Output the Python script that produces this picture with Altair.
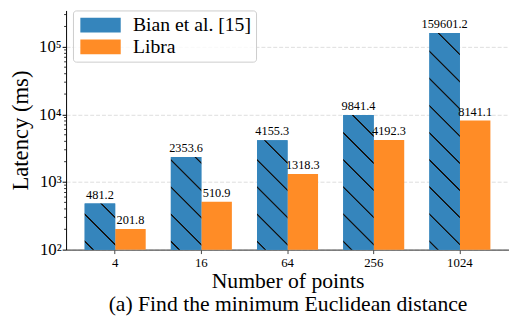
import math
import altair as alt
import pandas as pd

# ---- data ----
categories = ["4", "16", "64", "256", "1024"]
series = ["Bian et al. [15]", "Libra"]
bian_values = [481.2, 2353.6, 4155.3, 9841.4, 159601.2]
libra_values = [201.8, 510.9, 1318.3, 4192.3, 8141.1]
major_ticks = [100, 1000, 10000, 100000]
minor_ticks = [200, 300, 400, 500, 600, 700, 800, 900,
               2000, 3000, 4000, 5000, 6000, 7000, 8000, 9000,
               20000, 30000, 40000, 50000, 60000, 70000, 80000, 90000,
               200000, 300000]

# ---- style ----
BLUE = "#3585BC"
ORANGE = "#FF8C26"
FONT = "Liberation Serif"
W, H = 450, 243
Y_MIN, Y_MAX = 100, 345000
BAR_W = 31.0
HATCH_SPACING = 19.5

rows = []
for c, b, l in zip(categories, bian_values, libra_values):
    rows.append({"category": c, "method": series[0], "value": b})
    rows.append({"category": c, "method": series[1], "value": l})
df = pd.DataFrame(rows)
minor_df = pd.DataFrame({"value": minor_ticks})

y_scale = alt.Scale(type="log", domain=[Y_MIN, Y_MAX], nice=False)
label_expr = ("datum.value == 100 ? '10\u00b2' : datum.value == 1000 ? '10\u00b3' : "
              "datum.value == 10000 ? '10\u2074' : datum.value == 100000 ? '10\u2075' : ''")

y_axis = alt.Axis(
    title="Latency (ms)",
    titleFont=FONT, titleFontSize=23, titleFontWeight="normal", titleColor="black",
    titlePadding=6,
    labelFont=FONT, labelFontSize=17, labelColor="black", labelPadding=1,
    values=major_ticks, labelExpr=label_expr,
    tickSize=4, tickColor="black", domainColor="black", domainWidth=1,
    grid=True, gridColor="#dddddd", gridDash=[4, 2], gridWidth=1,
)

x_shared = alt.X(
    "category:N", sort=categories,
    scale=alt.Scale(domain=categories, paddingInner=0, paddingOuter=0.07),
    axis=alt.Axis(
        title=["Number of points", "(a) Find the minimum Euclidean distance"],
        titleFont=FONT, titleFontSize=22, titleFontWeight="normal", titleColor="black",
        titleLineHeight=24, titlePadding=1,
        labelFont=FONT, labelFontSize=13, labelColor="black", labelAngle=0, labelPadding=3,
        tickSize=4, tickColor="#444444", domainColor="#555555", domainWidth=1.5,
        grid=False,
    ),
)
xoff_shared = alt.XOffset(
    "method:N", sort=series,
    scale=alt.Scale(domain=series, paddingInner=0, paddingOuter=0.412),
)
y_shared = alt.Y("value:Q", scale=y_scale, axis=y_axis)

bars = alt.Chart().mark_bar().encode(
    y2=alt.Y2(datum=Y_MIN),
    color=alt.Color("method:N", scale=alt.Scale(domain=series, range=[BLUE, ORANGE]),
                    legend=alt.Legend(
                        title=None, orient="none", legendX=7, legendY=0,
                        symbolType="M-1,-1L4.47,-1L4.47,1L-1,1Z",
                        symbolSize=225, symbolStrokeWidth=0, symbolOpacity=1,
                        labelFont=FONT, labelFontSize=20, labelColor="black",
                        labelOffset=36, rowPadding=2, padding=5,
                        strokeColor="#cccccc", cornerRadius=3,
                        fillColor="rgba(255,255,255,0.8)",
                    )),
)


def hatch_gradient(value):
    log_span = math.log10(Y_MAX) - math.log10(Y_MIN)
    h = (math.log10(value) - math.log10(Y_MIN)) / log_span * H
    w = BAR_W
    c = (w + h) / (w * w + h * h)
    L = (w + h) / math.sqrt(2)
    stops = [{"offset": 0, "color": BLUE}]
    d = 6.0
    while d < L + 2:
        pts = [(d - 0.9, BLUE), (d - 0.4, "#111111"), (d + 0.4, "#111111"), (d + 0.9, BLUE)]
        for p, col in pts:
            off = min(max(p / L, 0.0), 1.0)
            stops.append({"offset": off, "color": col})
        d += HATCH_SPACING
    stops.append({"offset": 1, "color": BLUE})
    return {"gradient": "linear", "x1": 0, "y1": 1, "x2": c * w, "y2": 1 - c * h,
            "stops": stops}


hatch_layers = []
for cat, val in zip(categories, bian_values):
    hatch_layers.append(
        alt.Chart().transform_filter(
            (alt.datum.category == cat) & (alt.datum.method == series[0])
        ).mark_bar(fill=hatch_gradient(val)).encode(y2=alt.Y2(datum=Y_MIN))
    )

labels = alt.Chart().mark_text(
    font=FONT, fontSize=12.5, baseline="alphabetic", dy=-5, color="black"
).encode(text=alt.Text("value:Q", format=".1f"))

main = alt.layer(bars, *hatch_layers, labels, data=df).encode(
    x=x_shared, xOffset=xoff_shared, y=y_shared
)

minor = alt.Chart(minor_df).mark_rule(color="black", strokeWidth=0.8).encode(
    x=alt.value(-2), x2=alt.value(0),
    y=alt.Y("value:Q", scale=y_scale, axis=y_axis),
)

chart = alt.layer(main, minor).properties(
    width=W, height=H,
    autosize=alt.AutoSizeParams(type="none"),
    padding={"left": 59, "top": 0, "right": 0, "bottom": 70},
).configure_view(stroke=None)

chart.save("out.html", embed_options={"renderer": "svg", "actions": False})
